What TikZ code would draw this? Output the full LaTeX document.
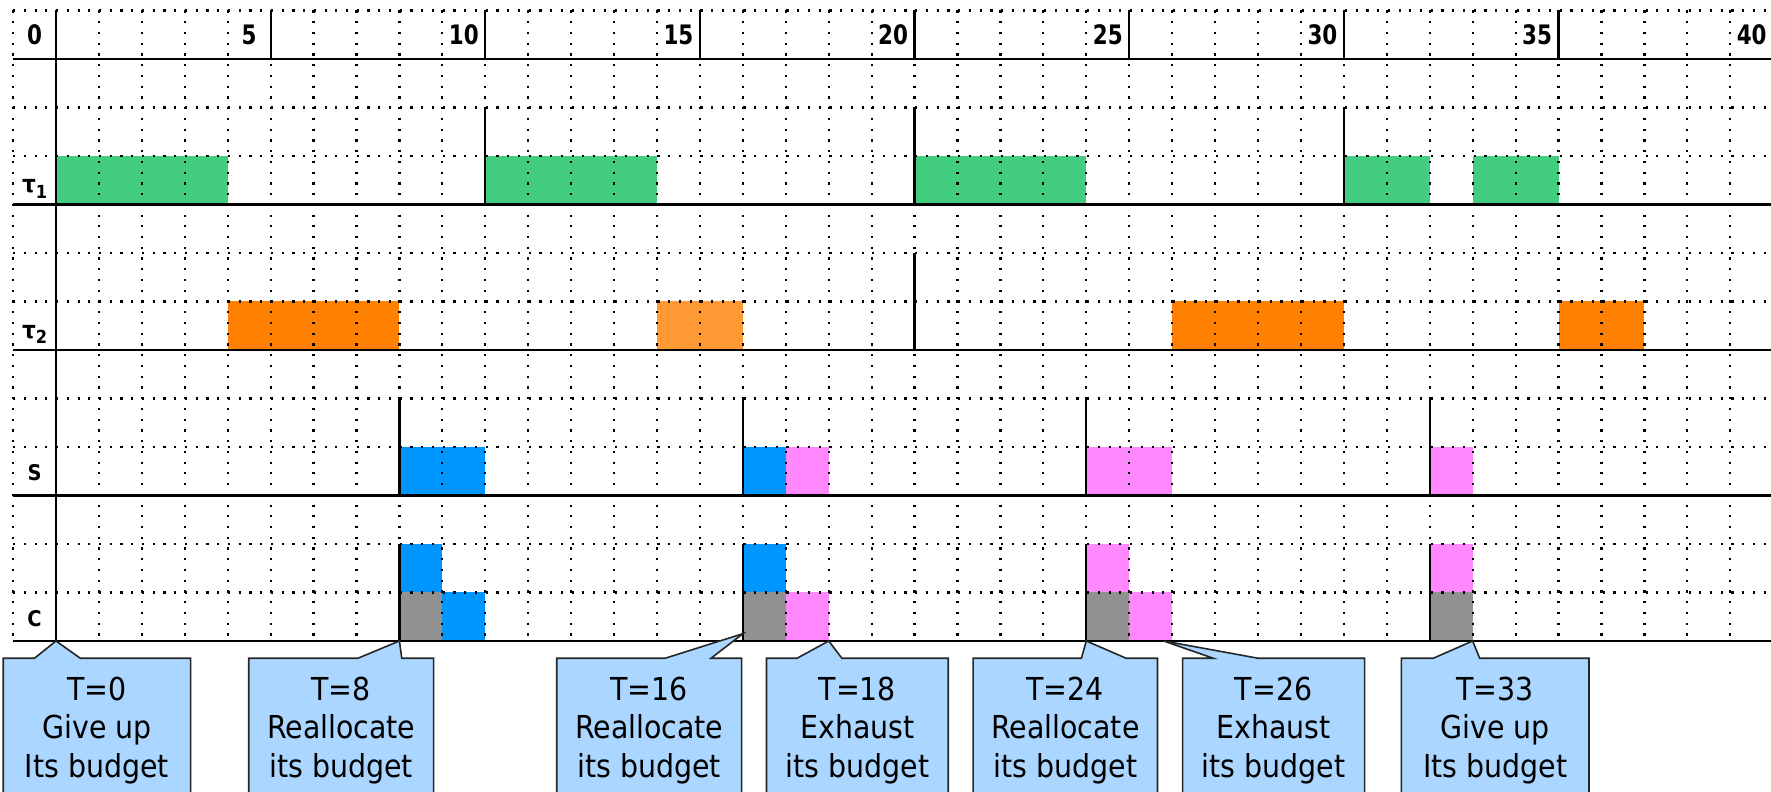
\documentclass[tikz,border=0pt]{standalone}
\usepackage{fontspec}
\setmainfont{DejaVu Sans}[FakeStretch=0.9]
\newfontfamily\hdfont{DejaVu Sans}[FakeStretch=0.8]
\definecolor{cgreen}{RGB}{67,205,128}
\definecolor{corange}{RGB}{255,127,0}
\definecolor{clorange}{RGB}{255,153,51}
\definecolor{cblue}{RGB}{0,150,255}
\definecolor{cpink}{RGB}{255,136,255}
\definecolor{cgray}{RGB}{145,145,145}
\definecolor{cfill}{RGB}{170,214,255}
\begin{document}
\begin{tikzpicture}[x=21.465pt,y=24.25pt,
  dotline/.style={line width=1.1pt,dash pattern=on 1.1pt off 4.27pt,black},
  solidline/.style={line width=1.1pt,black},
  callout/.style={fill=cfill,draw=black!85,line width=0.8pt,line join=miter},
  ctext/.style={anchor=north,inner sep=0pt,align=center,font=\fontsize{15.8pt}{19.25pt}\selectfont},
  hd/.style={inner sep=0pt,font=\hdfont\bfseries\fontsize{13.4pt}{13.4pt}\selectfont},
  rl/.style={anchor=base,inner sep=0pt,font=\bfseries\fontsize{10.8pt}{10.8pt}\selectfont},
  rlt/.style={anchor=base,inner sep=0pt,font=\bfseries\fontsize{12pt}{12pt}\selectfont}]
\useasboundingbox (-1.3044,-3.1134) rectangle (39.949,13.216);
% tau1 blocks
\fill[cgreen] (0,9) rectangle (4,10);
\fill[cgreen] (10,9) rectangle (14,10);
\fill[cgreen] (20,9) rectangle (24,10);
\fill[cgreen] (30,9) rectangle (32,10);
\fill[cgreen] (33,9) rectangle (35,10);
% tau2 blocks
\fill[corange] (4,6) rectangle (8,7);
\fill[clorange] (14,6) rectangle (16,7);
\fill[corange] (26,6) rectangle (30,7);
\fill[corange] (35,6) rectangle (37,7);
% S blocks
\fill[cblue] (8,3) rectangle (10,4);
\fill[cblue] (16,3) rectangle (17,4);
\fill[cpink] (17,3) rectangle (18,4);
\fill[cpink] (24,3) rectangle (26,4);
\fill[cpink] (32,3) rectangle (33,4);
% C blocks
\fill[cgray] (8,0) rectangle (9,1);
\fill[cblue] (8,1) rectangle (9,2);
\fill[cblue] (9,0) rectangle (10,1);
\fill[cgray] (16,0) rectangle (17,1);
\fill[cblue] (16,1) rectangle (17,2);
\fill[cpink] (17,0) rectangle (18,1);
\fill[cgray] (24,0) rectangle (25,1);
\fill[cpink] (24,1) rectangle (25,2);
\fill[cpink] (25,0) rectangle (26,1);
\fill[cgray] (32,0) rectangle (33,1);
\fill[cpink] (32,1) rectangle (33,2);
% dotted grid
\foreach \t in {-1,1,2,...,39} \draw[dotline] (\t,13) -- (\t,0);
\foreach \r in {1,2,4,5,7,8,10,11,13} \draw[dotline] (-1,\r) -- (39.95,\r);
% solid lines
\foreach \r in {0,3,6,9,12} \draw[solidline] (-1,\r) -- (39.95,\r);
\draw[solidline] (0,0) -- (0,13);
\foreach \t in {5,10,...,35} \draw[solidline] (\t,12) -- (\t,13);
% release marks
\foreach \t in {10,20,30} \draw[solidline] (\t,9) -- (\t,11);
\draw[solidline] (20,6) -- (20,8);
\foreach \t in {8,16,24,32} {\draw[solidline] (\t,3) -- (\t,5); \draw[solidline] (\t,0) -- (\t,2);}
% header labels
\foreach \t in {0,5,...,40} \node[hd] (h\t) at (\t-0.5,12.5) {\t};
% row labels
\node[rlt] (l1) at (-0.5,9.24) {τ\raisebox{-2.8pt}{\fontsize{9pt}{9pt}\selectfont 1}};
\node[rlt] (l2) at (-0.5,6.24) {τ\raisebox{-2.8pt}{\fontsize{9pt}{9pt}\selectfont 2}};
\node[rl] (l3) at (-0.5,3.3) {S};
\node[rl] (l4) at (-0.5,0.3) {C};
% callouts
\filldraw[callout] (-1.2276,-3.4) -- (-1.2276,-0.357) -- (-0.503,-0.357) -- (0,0) -- (0.568,-0.357) -- (3.1377,-0.357) -- (3.1377,-3.4);
\node[ctext] (c0) at (0.955,-0.728) {T=0\\Give up\\Its budget};
\filldraw[callout] (4.491,-3.4) -- (4.491,-0.357) -- (7.030,-0.357) -- (8,0) -- (8.055,-0.357) -- (8.796,-0.357) -- (8.796,-3.4);
\node[ctext] (c8) at (6.6435,-0.728) {T=8\\Reallocate\\its budget};
\filldraw[callout] (11.665,-3.4) -- (11.665,-0.357) -- (14.186,-0.357) -- (16,0.15) -- (15.257,-0.357) -- (15.970,-0.357) -- (15.970,-3.4);
\node[ctext] (c16) at (13.8175,-0.728) {T=16\\Reallocate\\its budget};
\filldraw[callout] (16.550,-3.4) -- (16.550,-0.357) -- (17.26,-0.357) -- (18,0) -- (18.307,-0.357) -- (20.785,-0.357) -- (20.785,-3.4);
\node[ctext] (c18) at (18.6675,-0.728) {T=18\\Exhaust\\its budget};
\filldraw[callout] (21.363,-3.4) -- (21.363,-0.357) -- (23.885,-0.357) -- (24,0) -- (24.929,-0.357) -- (25.658,-0.357) -- (25.658,-3.4);
\node[ctext] (c24) at (23.5105,-0.728) {T=24\\Reallocate\\its budget};
\filldraw[callout] (26.243,-3.4) -- (26.243,-0.357) -- (26.958,-0.357) -- (25.8,0) -- (28.006,-0.357) -- (30.482,-0.357) -- (30.482,-3.4);
\node[ctext] (c26) at (28.3625,-0.728) {T=26\\Exhaust\\its budget};
\filldraw[callout] (31.340,-3.4) -- (31.340,-0.357) -- (32.08,-0.357) -- (33,0) -- (33.163,-0.357) -- (35.710,-0.357) -- (35.710,-3.4);
\node[ctext] (c33) at (33.525,-0.728) {T=33\\Give up\\Its budget};
\end{tikzpicture}
\end{document}
